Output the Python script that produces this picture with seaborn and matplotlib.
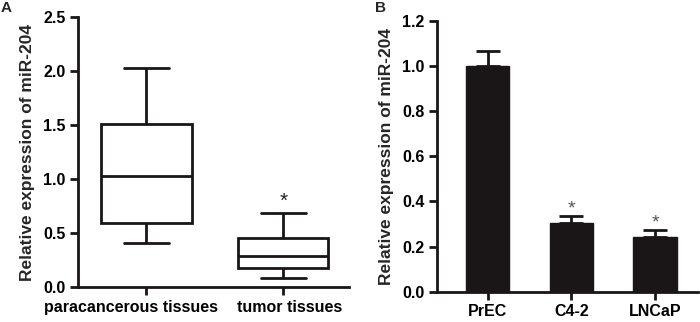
import numpy as np
import pandas as pd
import matplotlib as mpl
mpl.use("Agg")
import matplotlib.pyplot as plt
import matplotlib.transforms as mtransforms
import seaborn as sns

sns.set_style("ticks")
plt.rcParams['font.family'] = ['Liberation Sans', 'DejaVu Sans']
plt.rcParams['font.weight'] = 'bold'

# panel A: five-number summaries (min, q1, median, q3, max)
tissue_groups = ["paracancerous tissues", "tumor tissues"]
paracancerous_vals = [0.41, 0.60, 1.03, 1.51, 2.03]
tumor_vals = [0.09, 0.18, 0.29, 0.46, 0.69]

# panel B: bar means and upper error
cell_lines = ["PrEC", "C4-2", "LNCaP"]
cell_means = [1.0, 0.305, 0.244]
cell_err = [0.067, 0.028, 0.029]
cell_sig = ["", "*", "*"]

dark = "#1a1517"
lw = 2.0

df_a = pd.DataFrame({
    "group": [tissue_groups[0]] * len(paracancerous_vals) + [tissue_groups[1]] * len(tumor_vals),
    "value": paracancerous_vals + tumor_vals,
})
df_b = pd.DataFrame({"line": cell_lines, "mean": cell_means, "err": cell_err})

fig = plt.figure(figsize=(7, 3.22), dpi=100)
ax1 = fig.add_axes([0.1114, 0.1078, 0.3872, 0.8382])
ax2 = fig.add_axes([0.6247, 0.0941, 0.3723, 0.8416])

line_kws = dict(color=dark, linewidth=lw)
sns.boxplot(data=df_a, x="group", y="value", ax=ax1, whis=(0, 100), width=0.66,
            color="white", linecolor=dark, linewidth=lw, fliersize=0,
            boxprops=dict(facecolor="white", edgecolor=dark, linewidth=lw),
            capprops=dict(color=dark, linewidth=lw), whiskerprops=line_kws,
            medianprops=line_kws, capwidths=0.33)
ax1.set_ylim(0, 2.5)
ax1.set_xlim(-0.5, 1.48)
ax1.set_yticks([0, 0.5, 1.0, 1.5, 2.0, 2.5])
ax1.set_yticklabels(["0.0", "0.5", "1.0", "1.5", "2.0", "2.5"])
ax1.set_xlabel("")
ax1.set_ylabel("Relative expression of miR-204", fontsize=12.5, fontweight="bold", labelpad=6)
ax1.text(1, tumor_vals[-1] + 0.02, "*", ha="center", va="bottom", fontsize=15,
         fontweight="normal", color="#222222")

sns.barplot(data=df_b, x="line", y="mean", ax=ax2, color=dark, width=0.52,
            saturation=1, errorbar=None, edgecolor=dark)
ax2.errorbar(range(len(cell_lines)), cell_means,
             yerr=[np.zeros(len(cell_err)), cell_err], fmt="none",
             ecolor=dark, elinewidth=2, capsize=8.3, capthick=2)
for i, s in enumerate(cell_sig):
    if s:
        ax2.text(i, cell_means[i] + cell_err[i] - 0.005, s, ha="center", va="bottom",
                 fontsize=14, fontweight="normal", color="#555555")
ax2.set_ylim(0, 1.2)
ax2.set_xlim(-0.6, 2.51)
ax2.set_yticks([0, 0.2, 0.4, 0.6, 0.8, 1.0, 1.2])
ax2.set_yticklabels(["0.0", "0.2", "0.4", "0.6", "0.8", "1.0", "1.2"])
ax2.set_xlabel("")
ax2.set_ylabel("Relative expression of miR-204", fontsize=12.5, fontweight="bold", labelpad=6)

for ax in (ax1, ax2):
    sns.despine(ax=ax)
    for sp in ("left", "bottom"):
        ax.spines[sp].set_linewidth(2)
        ax.spines[sp].set_color(dark)
    ax.tick_params(axis="both", width=2, length=6, color=dark, labelsize=11.5,
                   labelcolor="black", direction="out", pad=3)
    for lab in ax.get_xticklabels() + ax.get_yticklabels():
        lab.set_fontweight("bold")

# nudge the long tissue labels apart the way the original layout has them
for lab, dx in zip(ax1.get_xticklabels(), [-15, 6]):
    lab.set_transform(lab.get_transform() +
                      mtransforms.ScaledTranslation(dx / 100, 0, fig.dpi_scale_trans))

fig.text(0.001, 0.998, "A", ha="left", va="top", fontsize=11, fontweight="bold")
fig.text(0.535, 0.998, "B", ha="left", va="top", fontsize=11, fontweight="bold")

fig.savefig("out.png", dpi=100)
